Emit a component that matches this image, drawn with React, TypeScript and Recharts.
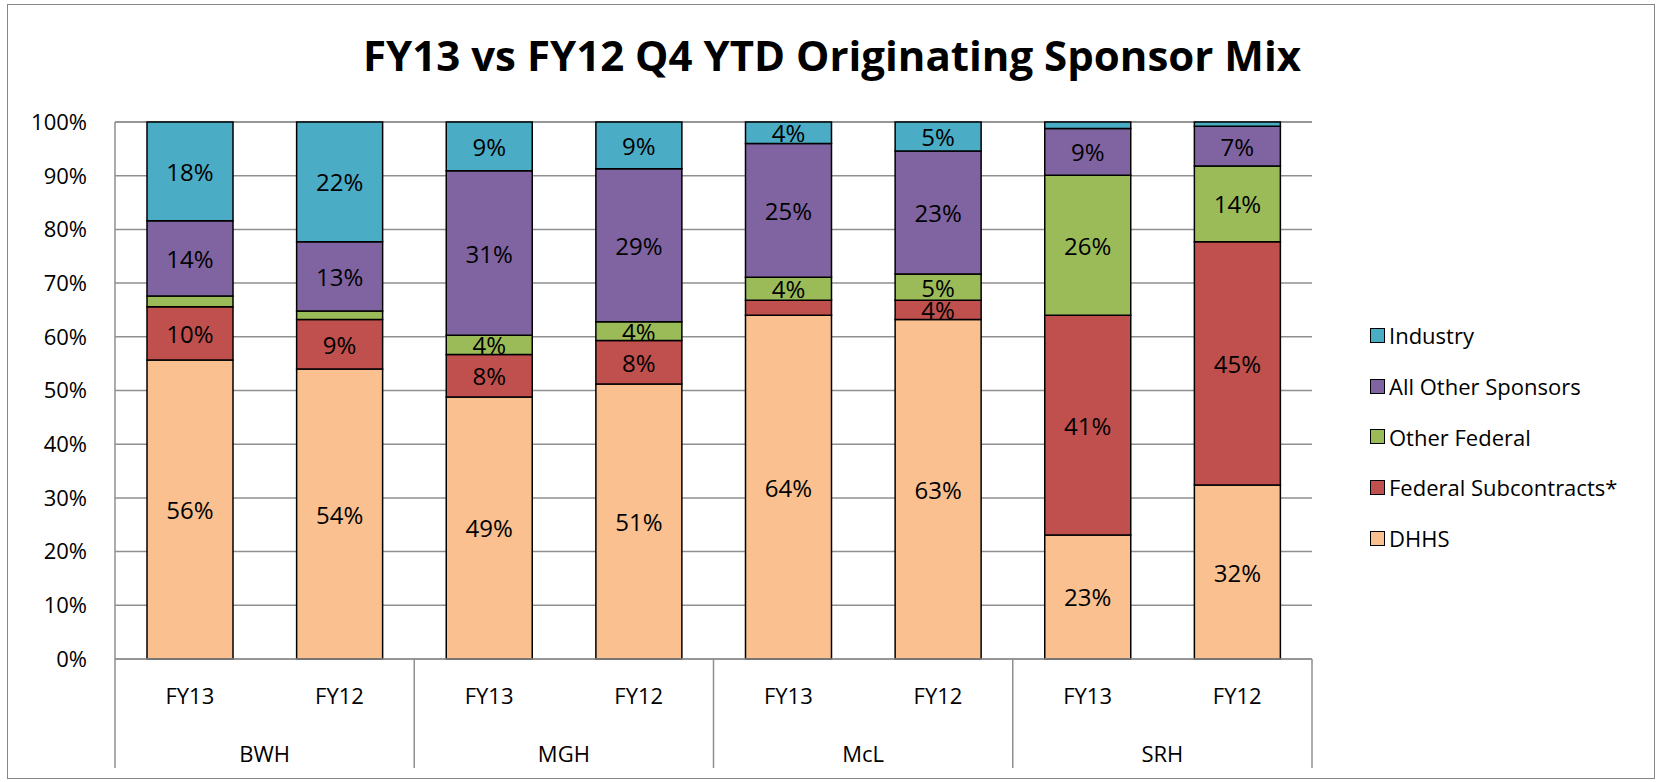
import React from "react";
import { BarChart, Bar, XAxis, YAxis, CartesianGrid, Legend, LabelList } from "recharts";

const years = ["FY13", "FY12", "FY13", "FY12", "FY13", "FY12", "FY13", "FY12"];
const groups = ["BWH", "BWH", "MGH", "MGH", "McL", "McL", "SRH", "SRH"];
const dhhs = [55.7, 54.0, 48.8, 51.2, 64.0, 63.2, 23.1, 32.4];
const fedSub = [9.9, 9.2, 7.9, 8.1, 2.8, 3.6, 40.9, 45.3];
const otherFed = [2.0, 1.6, 3.6, 3.5, 4.3, 4.9, 26.1, 14.1];
const allOther = [14.0, 12.9, 30.6, 28.5, 24.9, 22.9, 8.7, 7.4];
const industry = [18.4, 22.3, 9.1, 8.7, 4.0, 5.4, 1.2, 0.8];
const yTicks = [0, 10, 20, 30, 40, 50, 60, 70, 80, 90, 100];

const seriesNames = ["DHHS", "Federal Subcontracts*", "Other Federal", "All Other Sponsors", "Industry"];
const seriesKeys = ["dhhs", "fedSub", "otherFed", "allOther", "industry"];
const seriesColors = ["#FAC090", "#C0504D", "#9BBB59", "#8064A2", "#4BACC6"];

const rows = years.map((y, i) => ({
  year: y,
  group: groups[i],
  dhhs: dhhs[i],
  fedSub: fedSub[i],
  otherFed: otherFed[i],
  allOther: allOther[i],
  industry: industry[i],
}));

const FONT = "'Open Sans', 'DejaVu Sans', sans-serif";
const CHART_W = 1644;
const CHART_H = 771;
const MARGIN = { top: 117, right: 340, left: 0, bottom: 0 };
const Y_W = 107;
const PLOT_W = CHART_W - MARGIN.right - MARGIN.left - Y_W;
const BAND = PLOT_W / years.length;
const GRID = "#8f8f8f";

const renderLabel = (props: any) => {
  const { x, y, width, height, value } = props;
  if (value == null || value < 3) return null;
  return (
    <text
      x={x + width / 2}
      y={y + height / 2}
      textAnchor="middle"
      dominantBaseline="central"
      fontFamily={FONT}
      fontSize={24}
      fill="#000"
    >
      {Math.round(value) + "%"}
    </text>
  );
};

const YearTick = (props: any) => {
  const { x, y, payload } = props;
  return (
    <text x={x} y={y + 36} textAnchor="middle" dominantBaseline="central" fontFamily={FONT} fontSize={22} fill="#000">
      {payload.value}
    </text>
  );
};

const GroupTick = (props: any) => {
  const { x, y, payload, index } = props;
  const n = years.length;
  return (
    <g>
      {index % 2 === 0 && (
        <line x1={x - BAND / 2} x2={x - BAND / 2} y1={y - 55} y2={y + 54} stroke={GRID} strokeWidth={1.5} />
      )}
      {index === n - 1 && (
        <line x1={x + BAND / 2} x2={x + BAND / 2} y1={y - 55} y2={y + 54} stroke={GRID} strokeWidth={1.5} />
      )}
      {index % 2 === 0 && (
        <text x={x + BAND / 2} y={y + 39} textAnchor="middle" dominantBaseline="central" fontFamily={FONT} fontSize={22} fill="#000">
          {payload.value}
        </text>
      )}
    </g>
  );
};

const renderLegend = () => {
  const order = [4, 3, 2, 1, 0];
  return (
    <div style={{ fontFamily: FONT, fontSize: 22, color: "#000" }}>
      {order.map((i) => (
        <div key={seriesKeys[i]} style={{ height: 50.7, display: "flex", alignItems: "center" }}>
          <span
            style={{
              display: "inline-block",
              width: 13,
              height: 13,
              background: seriesColors[i],
              border: "1.5px solid #000",
              marginRight: 4,
            }}
          />
          <span style={{ whiteSpace: "nowrap" }}>{seriesNames[i]}</span>
        </div>
      ))}
    </div>
  );
};

export default function App() {
  return (
    <div
      style={{
        position: "absolute",
        left: 7,
        top: 4,
        width: 1648,
        height: 775,
        border: "1.5px solid #878787",
        boxSizing: "border-box",
        background: "#fff",
      }}
    >
      <div
        style={{
          position: "absolute",
          left: 0,
          top: 26,
          width: 1648,
          textAlign: "center",
          fontFamily: "'Open Sans', sans-serif",
          fontWeight: 700,
          fontSize: 42,
          lineHeight: "48px",
          color: "#000",
          zIndex: 2,
        }}
      >
        FY13 vs FY12 Q4 YTD Originating Sponsor Mix
      </div>
      <BarChart width={CHART_W} height={CHART_H} data={rows} margin={MARGIN}>
        <CartesianGrid vertical={false} stroke={GRID} strokeWidth={1.5} />
        <XAxis
          xAxisId={0}
          dataKey="year"
          height={55}
          axisLine={{ stroke: GRID, strokeWidth: 1.5 }}
          tickLine={false}
          tickSize={0}
          tickMargin={0}
          interval={0}
          tick={<YearTick />}
        />
        <XAxis
          xAxisId={1}
          dataKey="group"
          height={62}
          axisLine={false}
          tickLine={false}
          tickSize={0}
          tickMargin={0}
          interval={0}
          tick={<GroupTick />}
        />
        <YAxis
          width={Y_W}
          domain={[0, 100]}
          ticks={yTicks}
          interval={0}
          tickFormatter={(v: number) => v + "%"}
          axisLine={{ stroke: GRID, strokeWidth: 1.5 }}
          tickLine={false}
          tickSize={0}
          tickMargin={28}
          tick={{ fontFamily: FONT, fontSize: 22, fill: "#000" }}
        />
        <Legend
          layout="horizontal"
          align="center"
          verticalAlign="middle"
          wrapperStyle={{ position: "absolute", left: 1362, top: 305, width: 270 }}
          content={renderLegend}
        />
        {seriesKeys.map((k, i) => (
          <Bar
            key={k}
            xAxisId={0}
            dataKey={k}
            name={seriesNames[i]}
            stackId="s"
            fill={seriesColors[i]}
            stroke="#000"
            strokeWidth={1.5}
            barSize={86}
            isAnimationActive={false}
          >
            <LabelList dataKey={k} content={renderLabel} />
          </Bar>
        ))}
      </BarChart>
    </div>
  );
}
